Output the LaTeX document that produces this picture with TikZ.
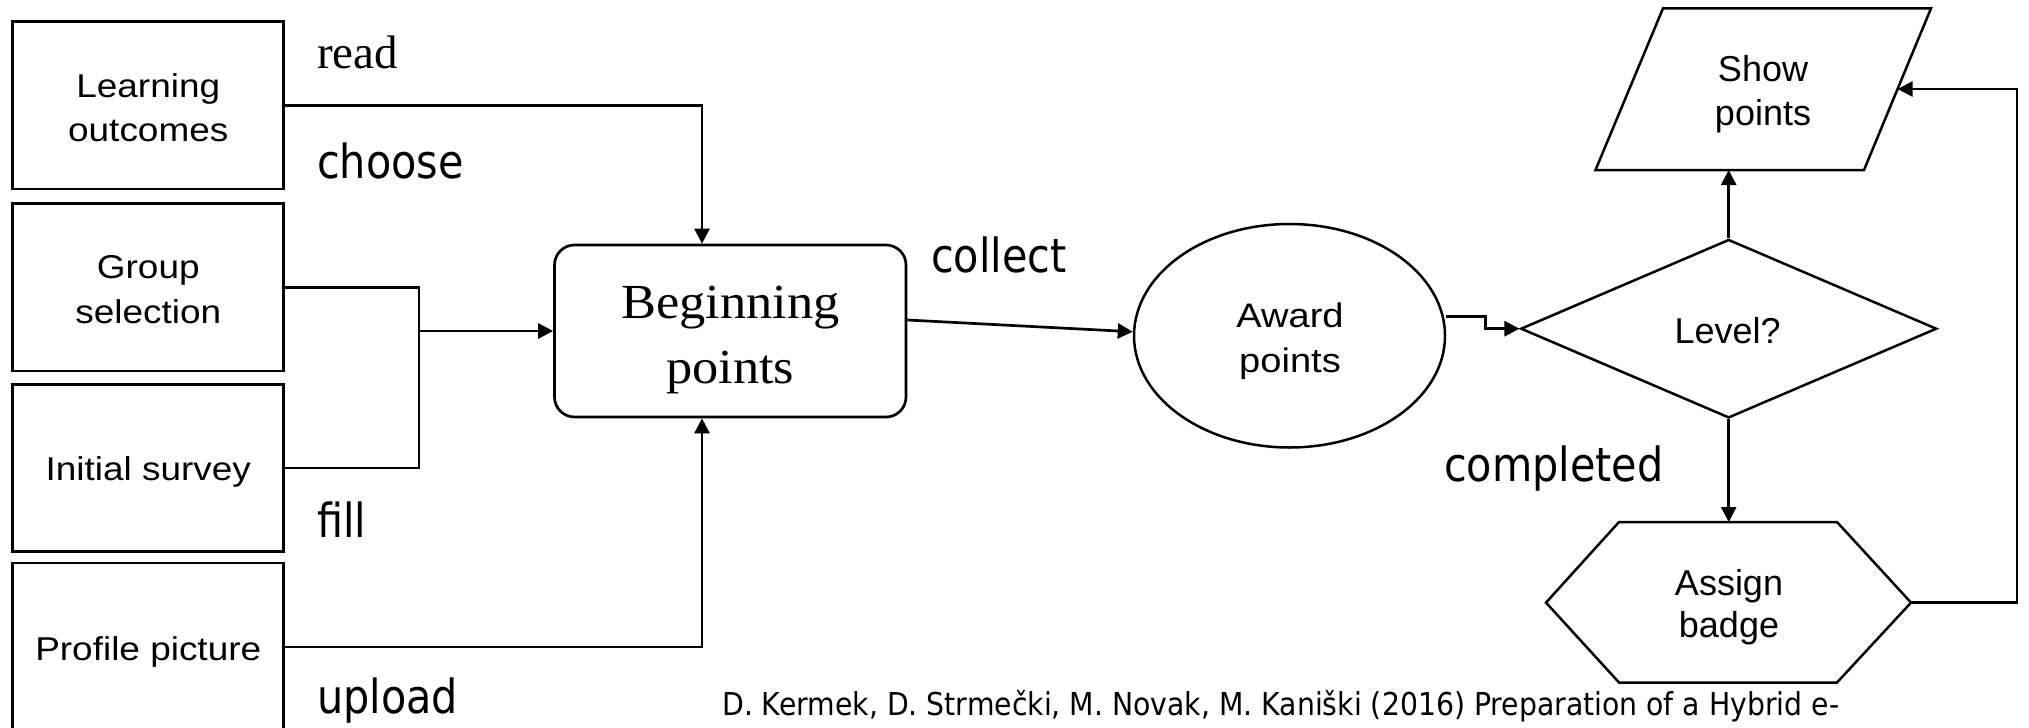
\documentclass[tikz,border=0pt]{standalone}
\usepackage{fontspec}
\usepackage{graphicx}
\usetikzlibrary{arrows.meta,shapes.geometric}
\newfontfamily\boxfont{Liberation Sans}[FakeStretch=1.12]
\newfontfamily\serifA{Liberation Serif}
\newfontfamily\serifB{Liberation Serif}[FakeStretch=1.07]
\newfontfamily\lblfont{DejaVu Sans}[FakeStretch=0.88]
\newfontfamily\shpfont{Liberation Sans}
\newfontfamily\citefont{DejaVu Sans}
\tikzset{
  ln/.style={line width=2.7pt},
  arr/.style={line width=2.7pt, -{Triangle[length=15pt,width=15pt]}},
  boxn/.style={draw, line width=2.7pt, minimum width=271pt, inner sep=0pt},
  btxt/.style={anchor=base, inner sep=0pt, font=\boxfont\fontsize{33pt}{40pt}\selectfont},
  atxt/.style={anchor=base, inner sep=0pt, font=\boxfont\fontsize{34pt}{40pt}\selectfont},
  stxt/.style={anchor=base, inner sep=0pt, font=\shpfont\fontsize{36pt}{42pt}\selectfont},
  btxtserif/.style={anchor=base, inner sep=0pt, font=\serifB\fontsize{49pt}{58pt}\selectfont},
  lbl/.style={anchor=base west, inner sep=0pt, font=\lblfont\fontsize{47pt}{56pt}\selectfont},
}
\begin{document}
\begin{tikzpicture}[x=1pt,y=-1pt]
\fill[white] (0,0) rectangle (2029,728);
\useasboundingbox (0,0) rectangle (2029,728);

% left boxes
\node[boxn, minimum height=167.3pt] (LO) at (148.25,105.35) {};
\node[boxn, minimum height=167.3pt] (GS) at (148.25,287.35) {};
\node[boxn, minimum height=167.4pt] (IS) at (148.25,468) {};
\node[boxn, minimum height=168pt] (PP) at (148.25,647) {};
\node[btxt] (LOt1) at (148.25,97.7) {Learning};
\node[btxt] (LOt2) at (148.25,141.7) {outcomes};
\node[btxt] (GSt1) at (148.25,278) {Group};
\node[btxt] (GSt2) at (148.25,323) {selection};
\node[btxt] (ISt) at (148.25,480) {Initial survey};
\node[btxt] (PPt) at (148.25,660) {Profile picture};

% Beginning points
\node[draw, ln, rounded corners=20pt, minimum width=351.5pt, minimum height=172pt, inner sep=0pt] (BP) at (730.25,331) {};
\node[btxtserif] (BPt1) at (730.25,318) {Beginning};
\node[btxtserif] (BPt2) at (730.25,383) {points};

% Award points
\node[draw, ellipse, line width=2.5pt, minimum width=311pt, minimum height=223.5pt, inner sep=0pt] (AW) at (1289.5,335.75) {};
\node[atxt] (AWt1) at (1290,327) {Award};
\node[atxt] (AWt2) at (1290,372) {points};

% Level?
\node[draw, diamond, line width=2.5pt, minimum width=416pt, minimum height=178.5pt, inner sep=0pt] (LV) at (1728.7,328.7) {};
\node[stxt] (LVt) at (1727.7,343.5) {Level?};

% Show points (parallelogram)
\coordinate (SP1) at (1595.5,170);
\coordinate (SP2) at (1864,170);
\coordinate (SP3) at (1931,8.3);
\coordinate (SP4) at (1663,8.3);
\coordinate (SPb) at (1728.7,170);
\coordinate (SPr) at (1897.6,89);
\draw[line width=2.5pt] (SP1) -- (SP2) -- (SP3) -- (SP4) -- cycle;
\node[stxt] (SPt1) at (1763,81) {Show};
\node[stxt] (SPt2) at (1763,125) {points};

% Assign badge (hexagon)
\coordinate (AB1) at (1546,602.6);
\coordinate (AB2) at (1619,522);
\coordinate (AB3) at (1837,522);
\coordinate (AB4) at (1911,602.6);
\coordinate (AB5) at (1837,682.5);
\coordinate (AB6) at (1619,682.5);
\coordinate (ABn) at (1728.7,522);
\draw[line width=2.5pt] (AB1) -- (AB2) -- (AB3) -- (AB4) -- (AB5) -- (AB6) -- cycle;
\node[stxt] (ABt1) at (1729,595) {Assign};
\node[stxt] (ABt2) at (1729,637) {badge};

% connectors
\coordinate (J) at (419,331);
\draw[arr] (LO.east) -| ([xshift=-28.25pt]BP.north);
\draw[ln] (GS.east) -| (J);
\draw[ln] (IS.east) -| (J);
\draw[arr] (J) -- (BP.west);
\draw[arr] (PP.east) -| ([xshift=-28.25pt]BP.south);
\draw[arr] ([yshift=11pt]BP.east) -- ([yshift=4pt]AW.west);
\draw[arr] ([yshift=19pt]AW.east) -- ++(39,0) |- (LV.west);
\draw[arr] (LV.north) -- (SPb);
\draw[arr] (LV.south) -- (ABn);
\draw[arr] (AB4) -- ++(106,0) |- (SPr);

% labels
\node[anchor=base west, inner sep=0pt, font=\serifA\fontsize{47pt}{56pt}\selectfont] (Lread) at (317,68) {read};
\node[lbl] (Lchoose) at (317,178) {choose};
\node[lbl] (Lfill) at (317,537) {fill};
\node[lbl] (Lupload) at (317,713) {upload};
\node[lbl] (Lcollect) at (931,272) {collect};
\node[lbl] (Lcompleted) at (1444,481) {completed};
\node[anchor=base west, inner sep=0pt, font=\citefont\fontsize{31.5pt}{36pt}\selectfont] (cite) at (722,715)
  {\resizebox{1117pt}{\height}{D. Kermek, D. Strmečki, M. Novak, M. Kaniški (2016) Preparation of a Hybrid e-}};
\end{tikzpicture}
\end{document}
